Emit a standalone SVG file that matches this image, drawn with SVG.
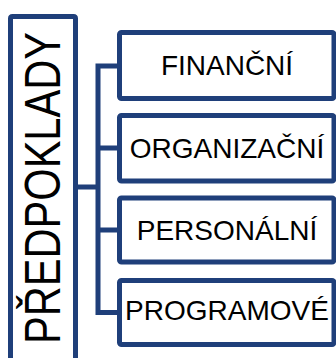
<svg xmlns="http://www.w3.org/2000/svg" width="336" height="358" viewBox="0 0 336 358">
<style>
.box{fill:#ffffff;stroke:#1F3F7A;stroke-width:5;}
.conn{fill:none;stroke:#1F3F7A;stroke-width:5;stroke-linejoin:miter;stroke-linecap:butt;}
.lbl{font-family:"Liberation Sans",Arial,sans-serif;font-size:28px;fill:#000000;text-anchor:middle;}
.main{font-family:"Liberation Sans",Arial,sans-serif;font-size:50px;fill:#000000;text-anchor:middle;}
</style>
<rect width="336" height="358" fill="#ffffff"/>
<g id="connectors">
<path class="conn" d="M75.5,187 H98 M98,63.5 V315 M95.5,66 H119.5 M98,148 H119.5 M98,230 H119.5 M95.5,312.5 H119.5"/>
</g>
<g id="predpoklady">
<path class="box" d="M10.5,358 V18.5 Q10.5,16.5 12.5,16.5 H73.5 Q75.5,16.5 75.5,18.5 V358"/>
<text class="main" transform="translate(60,188) rotate(-90) scale(0.832,1)" x="0" y="0">PŘEDPOKLADY</text>
</g>
<g id="financni">
<rect class="box" x="119.5" y="32.5" width="214.5" height="66" rx="2"/>
<text class="lbl" x="227" y="75">FINANČNÍ</text>
</g>
<g id="organizacni">
<rect class="box" x="119.5" y="115.5" width="214.5" height="65.5" rx="2"/>
<text class="lbl" x="227" y="158">ORGANIZAČNÍ</text>
</g>
<g id="personalni">
<rect class="box" x="119.5" y="198" width="214.5" height="64" rx="2"/>
<text class="lbl" x="227" y="240">PERSONÁLNÍ</text>
</g>
<g id="programove">
<rect class="box" x="119.5" y="280.5" width="214.5" height="64" rx="2"/>
<text class="lbl" x="227" y="320">PROGRAMOVÉ</text>
</g>
</svg>
